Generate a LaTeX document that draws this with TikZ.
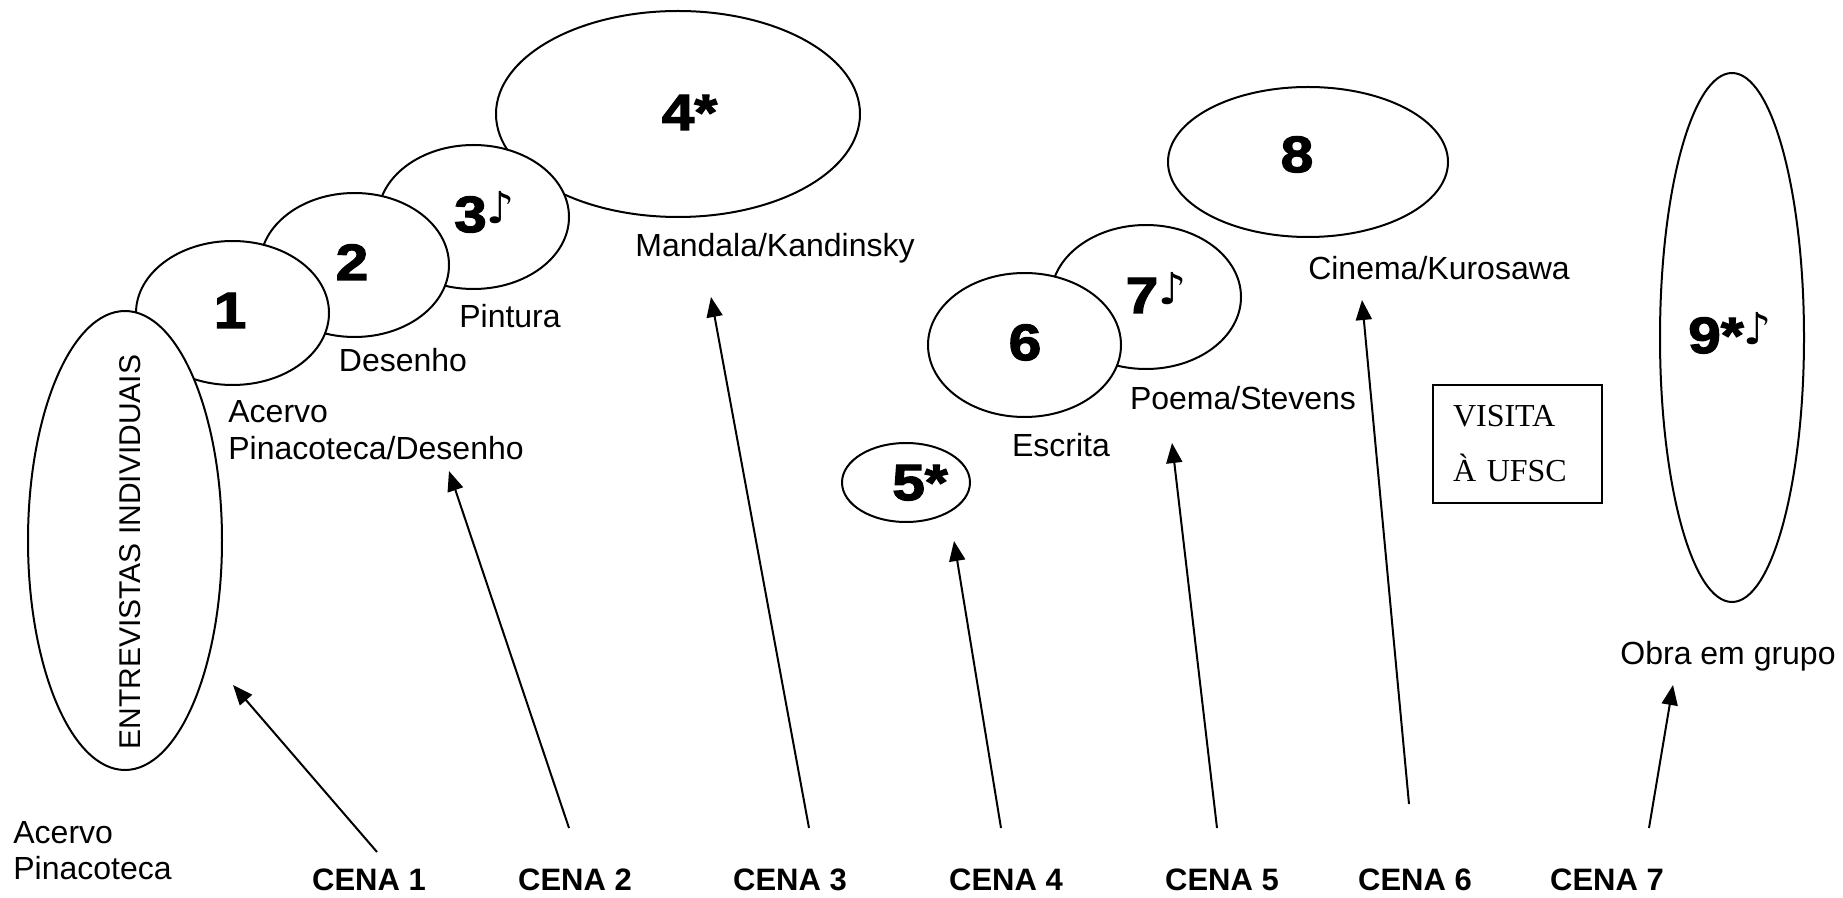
\documentclass[tikz,border=0pt]{standalone}
\usepackage{fontspec}
\setmainfont{Liberation Sans}
\newfontfamily\serfont{Liberation Serif}
\newfontfamily\notefont{DejaVu Sans}
\newfontfamily\heavyfont[FakeBold=2.5,FakeStretch=1.15]{Liberation Sans Bold}
\usetikzlibrary{shapes.geometric,arrows.meta}
\newcommand{\nota}{\raisebox{4pt}{\notefont\fontsize{22}{22}\selectfont ♪}}
\begin{document}
\begin{tikzpicture}[x=0.5pt,y=-0.5pt,
  ell/.style={ellipse, draw, line width=1pt, fill=white, inner sep=0pt},
  lbl/.style={font=\fontsize{16}{19}\selectfont, inner sep=0pt, anchor=base},
  lblw/.style={lbl, anchor=base west},
  num/.style={font=\heavyfont\fontsize{25.5}{30}\selectfont, inner sep=0pt, anchor=base},
  cena/.style={font=\bfseries\fontsize{15.5}{18}\selectfont, inner sep=0pt, anchor=base},
  arr/.style={line width=1pt, -{Triangle[length=10pt,width=8pt]}}]
\useasboundingbox (0,0) rectangle (1843,898);
% ellipses (drawing order gives overlaps)
\node[ell, minimum width=182pt, minimum height=103pt] (e4) at (678,114) {};
\node[ell, minimum width=95.5pt, minimum height=72pt] (e3) at (473.5,217) {};
\node[ell, minimum width=94.5pt, minimum height=72pt] (e2) at (354.5,265) {};
\node[ell, minimum width=96.5pt, minimum height=72pt] (e1) at (232.5,313) {};
\node[ell, minimum width=97pt, minimum height=229.5pt] (eE) at (125,540.5) {};
\node[ell, minimum width=64pt, minimum height=39.5pt] (e5) at (906,482.5) {};
\node[ell, minimum width=140pt, minimum height=75pt] (e8) at (1308,162) {};
\node[ell, minimum width=95pt, minimum height=72pt] (e7) at (1146,297) {};
\node[ell, minimum width=96.5pt, minimum height=72pt] (e6) at (1024.5,345) {};
\node[ell, minimum width=72pt, minimum height=264.5pt] (e9) at (1732,337.5) {};
% numbers
\node[num] (n1) at (230,328) {1};
\node[num] (n2) at (352,280) {2};
\node[num] (n3) at (484.5,232) {3\nota};
\node[num] (n4) at (689.5,130) {4*};
\node[num] (n5) at (920,500) {5*};
\node[num] (n6) at (1025,360) {6};
\node[num] (n7) at (1156,313) {7\nota};
\node[num] (n8) at (1297,172) {8};
\node[num] (n9) at (1730,353) {9*\nota};
% labels
\node[lbl, font=\fontsize{15}{18}\selectfont, rotate=90, anchor=center] (tE) at (130,552) {ENTREVISTAS INDIVIDUAIS};
\node[lbl] (lDes) at (403,372) {Desenho};
\node[lbl] (lPin) at (510,328) {Pintura};
\node[lblw] (lAc1) at (228,423) {Acervo};
\node[lblw] (lAc2) at (228,460) {Pinacoteca/Desenho};
\node[lbl] (lMan) at (775,257) {Mandala/Kandinsky};
\node[lbl] (lEsc) at (1061,457) {Escrita};
\node[lbl] (lPoe) at (1243,410) {Poema/Stevens};
\node[lbl] (lCin) at (1439,280) {Cinema/Kurosawa};
\node[lbl] (lObr) at (1728,664) {Obra em grupo};
\node[lblw] (lAp1) at (13,843) {Acervo};
\node[lblw] (lAp2) at (13,879) {Pinacoteca};
% box
\node[draw, line width=1pt, minimum width=84.5pt, minimum height=59pt, text width=64.5pt,
  inner xsep=10pt, inner ysep=0pt, align=left,
  font=\serfont\fontsize{16}{27.5}\selectfont] (visita) at (1517.5,444) {VISITA\\À UFSC};
% scenes
\node[cena] (c1) at (369,890) {CENA 1};
\node[cena] (c2) at (575,890) {CENA 2};
\node[cena] (c3) at (790,890) {CENA 3};
\node[cena] (c4) at (1006,890) {CENA 4};
\node[cena] (c5) at (1222,890) {CENA 5};
\node[cena] (c6) at (1415,890) {CENA 6};
\node[cena] (c7) at (1607,890) {CENA 7};
% arrow ends
\coordinate (t1) at (377,852); \coordinate (h1) at (233,685);
\coordinate (t2) at (569,828); \coordinate (h2) at (449,471);
\coordinate (t3) at (809,828); \coordinate (h3) at (711,297);
\coordinate (t4) at (1001,828); \coordinate (h4) at (954,541);
\coordinate (t5) at (1217,828); \coordinate (h5) at (1172,443);
\coordinate (t6) at (1409,804); \coordinate (h6) at (1362,300);
\coordinate (t7) at (1649,828); \coordinate (h7) at (1673,685);
\draw[arr] (t1) -- (h1);
\draw[arr] (t2) -- (h2);
\draw[arr] (t3) -- (h3);
\draw[arr] (t4) -- (h4);
\draw[arr] (t5) -- (h5);
\draw[arr] (t6) -- (h6);
\draw[arr] (t7) -- (h7);
\end{tikzpicture}
\end{document}
